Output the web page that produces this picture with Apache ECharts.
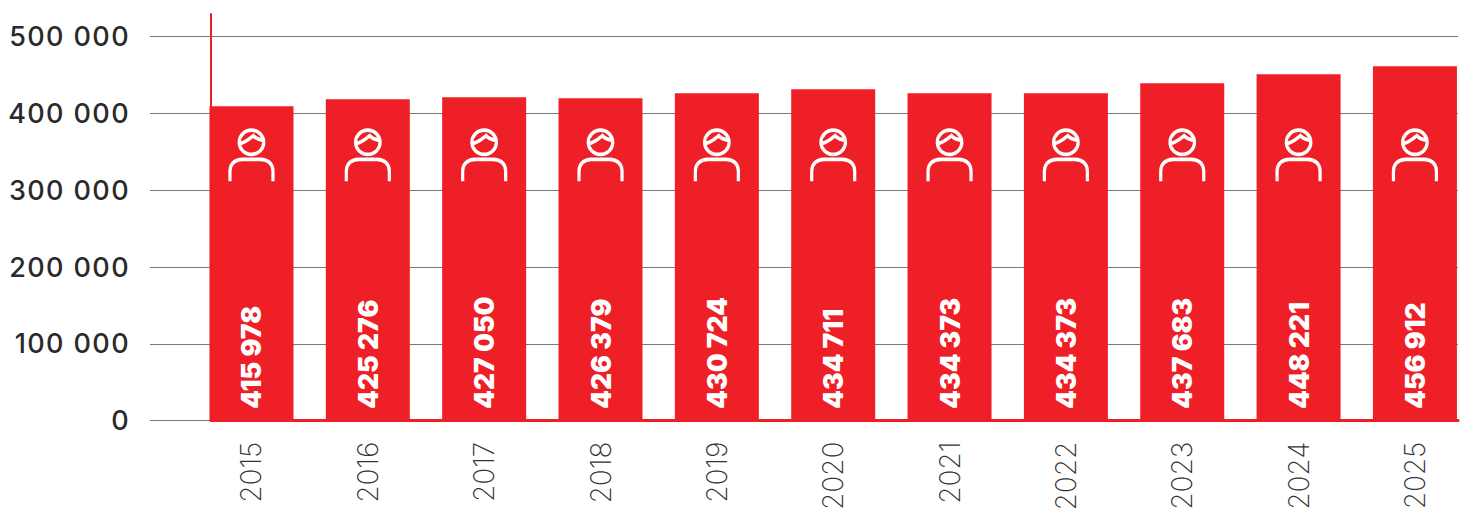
<!DOCTYPE html>
<html>
<head>
<meta charset="utf-8">
<title>chart</title>
<style>
html,body{margin:0;padding:0;background:#fff;}
#main{width:1463px;height:510px;}
/* y轴数字字距 */
#main text[style*="500"]{letter-spacing:1.4px;}
</style>
<script src="https://cdn.jsdelivr.net/npm/echarts@6/dist/echarts.min.js"></script>
</head>
<body>
<div id="main"></div>
<script>
// years on the x axis
var years = ['2015','2016','2017','2018','2019','2020','2021','2022','2023','2024','2025'];
// bar heights as drawn in the picture
var barValues = [409500,418700,421300,420000,426500,431700,426500,426500,439500,451000,461600];
// numbers printed inside the bars
var barLabels = ['415 978','425 276','427 050','426 379','430 724','434 711','434 373','434 373','437 683','448 221','456 912'];
// height the person icon sits at, one per bar
var iconLevels = [345100,345100,345100,345100,345100,345100,345100,345100,345100,345100,345100];
var yTicks = {0:'0',100000:'100 000',200000:'200 000',300000:'300 000',400000:'400 000',500000:'500 000'};

var RED = '#EE1F26';
var personIcon = 'path://M33 11.500A12 12 0 1 1 9 11.500A12 12 0 1 1 33 11.500Z' +
    'M9.700 12.500C14 12.500 18 9 22.800 5C25 7.500 28 9 32.800 9.500' +
    'M0 50V40C0 33 5 28.500 12 28.500H30C37 28.500 42 33 42 40V50';

var chart = echarts.init(document.getElementById('main'),null,{renderer:'svg'});
chart.setOption({
    animation:false,
    grid:[
        //刻度和网格线
        {left:150,width:1308,top:36.7,height:384,outerBoundsMode:'none'},
        //柱子
        {left:193.3,width:1279.8,top:36.7,height:384,outerBoundsMode:'none'},
        //红色坐标线
        {left:211,width:1247,top:14,height:406.500,outerBoundsMode:'none'}
    ],
    xAxis:[
        {gridIndex:0,type:'value',show:false,min:0,max:1},
        {
            gridIndex:1,
            type:'category',
            data:years,
            axisLine:{show:false},
            axisTick:{show:false},
            axisLabel:{
                interval:0,
                rotate:90,
                margin:21,
                fontFamily:'Inter',
                fontWeight:200,
                fontSize:28,
                color:'#333'
            }
        },
        {
            gridIndex:2,
            type:'value',
            min:0,
            max:1,
            axisLine:{show:true,onZero:false,lineStyle:{color:RED,width:3}},
            axisTick:{show:false},
            axisLabel:{show:false},
            splitLine:{show:false}
        }
    ],
    yAxis:[
        {
            gridIndex:0,
            type:'value',
            min:0,
            max:500000,
            interval:100000,
            axisLine:{show:false},
            axisTick:{show:false},
            axisLabel:{
                margin:20,
                fontFamily:'Inter',
                fontWeight:500,
                fontSize:27,
                color:'#2b2a29',
                formatter:function(v){return yTicks[v];}
            },
            splitLine:{lineStyle:{color:'#7a7a7a',width:1}}
        },
        {gridIndex:1,type:'value',show:false,min:0,max:500000},
        {
            gridIndex:2,
            type:'value',
            min:0,
            max:1,
            axisLine:{show:true,onZero:false,lineStyle:{color:RED,width:2}},
            axisTick:{show:false},
            axisLabel:{show:false},
            splitLine:{show:false}
        }
    ],
    series:[
        {
            type:'bar',
            xAxisIndex:1,
            yAxisIndex:1,
            barWidth:84,
            data:barValues,
            itemStyle:{color:RED},
            label:{
                show:true,
                position:'insideBottom',
                distance:12,
                rotate:90,
                align:'left',
                verticalAlign:'middle',
                fontFamily:'Inter',
                fontWeight:900,
                fontSize:26.500,
                color:'#fff',
                formatter:function(p){return barLabels[p.dataIndex];}
            }
        },
        {
            type:'scatter',
            xAxisIndex:1,
            yAxisIndex:1,
            data:iconLevels,
            symbol:personIcon,
            symbolSize:[43,51],
            itemStyle:{color:'none',borderColor:'#fff',borderWidth:3.500,opacity:1},
            silent:true
        }
    ]
});
</script>
</body>
</html>
